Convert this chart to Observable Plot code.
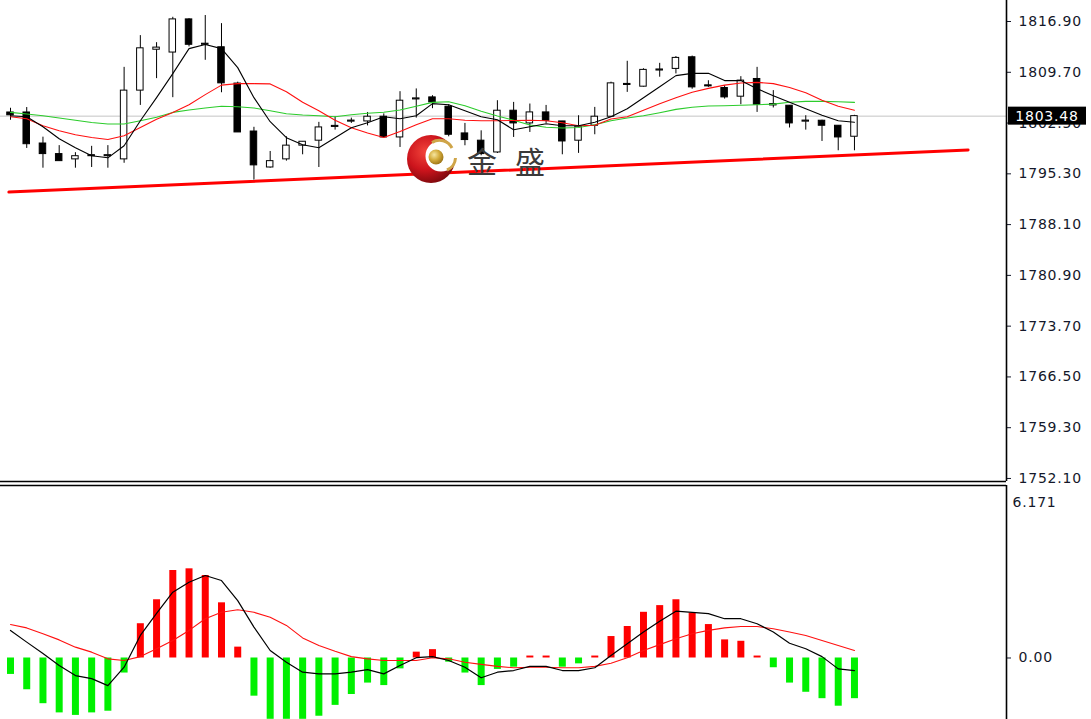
<!DOCTYPE html>
<html><head><meta charset="utf-8">
<script src="https://cdn.jsdelivr.net/npm/d3@7"></script>
<script src="https://cdn.jsdelivr.net/npm/@observablehq/plot@0.6"></script>
<style>
html,body{margin:0;padding:0;background:#fff;}
#wrap{position:relative;width:1091px;height:719px;overflow:hidden;background:#fff;}
#wrap > svg{display:block;}
#wm{position:absolute;left:0;top:0;pointer-events:none;}
</style></head><body><div id="wrap"></div>
<script>
// ---- price data (candles) ----
const openP  = [1804.0,1804.0,1799.6,1798.1,1797.35,1797.8,1797.8,1797.35,1807.1,1812.9,1812.5,1817.2,1813.6,1813.25,1808.1,1801.3,1796.2,1797.35,1799.3,1800.0,1801.95,1802.7,1802.73,1803.4,1800.46,1805.85,1806.14,1804.82,1801.03,1800.0,1798.33,1804.25,1802.45,1804.01,1802.73,1800.0,1802.12,1803.4,1808.05,1807.66,1809.95,1810.18,1811.83,1807.85,1807.47,1806.24,1808.75,1805.0,1804.96,1802.7,1802.83,1802.12,1800.56];
const highP  = [1804.6,1804.7,1800.5,1799.3,1798.3,1799.2,1799.3,1810.4,1814.9,1813.9,1817.5,1817.3,1817.75,1816.6,1808.3,1801.9,1798.47,1800.56,1799.85,1802.6,1803.4,1803.2,1804.0,1803.8,1806.95,1807.34,1806.38,1805.1,1802.45,1801.4,1805.67,1805.43,1805.2,1805.0,1802.73,1803.54,1804.72,1808.3,1811.26,1810.2,1810.97,1811.93,1812.0,1808.5,1807.8,1809.08,1810.4,1807.1,1804.96,1803.54,1802.9,1802.12,1803.6];
const lowP   = [1802.9,1798.9,1796.1,1797.1,1796.1,1796.2,1796.1,1796.8,1805.0,1808.8,1806.1,1813.3,1811.4,1806.8,1801.2,1794.4,1796.1,1797.1,1798.0,1796.2,1801.5,1802.45,1802.1,1800.4,1799.04,1803.2,1804.54,1800.55,1799.28,1797.86,1798.18,1800.46,1801.17,1802.45,1798.0,1798.2,1800.84,1803.3,1806.85,1807.6,1809.0,1809.47,1807.3,1807.56,1805.9,1805.1,1804.01,1804.64,1801.8,1801.5,1799.89,1798.57,1798.57];
const closeP = [1803.6,1799.5,1798.1,1797.1,1797.8,1797.95,1797.95,1807.1,1813.1,1813.2,1817.2,1813.6,1813.75,1808.13,1801.17,1796.5,1797.1,1799.3,1799.85,1801.88,1802.1,1802.85,1803.4,1800.46,1805.67,1806.0,1805.43,1800.84,1800.09,1798.1,1804.25,1802.45,1804.01,1802.83,1799.89,1801.98,1803.4,1808.13,1807.9,1810.04,1810.1,1811.74,1807.56,1807.7,1806.14,1808.52,1805.1,1805.2,1802.45,1802.85,1802.12,1800.46,1803.48];

// ---- moving averages ----
const maBlack = [1803.54,1803.40,1801.98,1800.27,1798.99,1797.86,1797.57,1799.28,1802.83,1806.10,1809.51,1813.06,1813.63,1813.06,1810.36,1806.10,1802.69,1800.42,1799.42,1798.99,1800.42,1801.84,1802.55,1803.40,1803.12,1803.54,1805.25,1805.10,1804.25,1803.40,1802.97,1801.55,1801.98,1802.40,1802.12,1802.12,1802.62,1803.40,1804.54,1806.10,1807.66,1809.23,1809.55,1809.55,1808.52,1808.52,1807.38,1806.38,1805.46,1804.54,1803.61,1802.83,1802.62];
const maRed   = [1803.40,1803.12,1802.12,1801.41,1800.84,1800.46,1800.17,1800.70,1801.88,1803.04,1804.01,1805.10,1806.53,1807.88,1808.09,1808.09,1808.05,1806.95,1805.46,1804.25,1802.90,1801.84,1801.08,1800.46,1801.30,1802.26,1803.12,1803.12,1802.90,1802.83,1802.83,1802.87,1802.90,1802.83,1802.55,1802.12,1802.19,1803.07,1803.40,1804.32,1805.25,1806.10,1806.88,1807.42,1807.88,1808.19,1808.27,1808.09,1807.55,1806.81,1805.74,1804.89,1804.32];
const maGreen = [1804.01,1803.78,1803.54,1803.21,1802.90,1802.59,1802.36,1802.36,1802.83,1803.33,1804.01,1804.35,1804.64,1804.89,1804.82,1804.64,1804.25,1803.83,1803.64,1803.54,1803.40,1803.68,1803.90,1804.04,1804.35,1804.89,1805.43,1805.53,1804.96,1804.18,1803.50,1802.90,1802.22,1801.91,1801.79,1801.88,1802.26,1802.83,1803.21,1803.54,1803.97,1804.44,1804.75,1804.92,1804.96,1805.03,1805.10,1805.18,1805.46,1805.57,1805.57,1805.53,1805.43];

// ---- trend line (bar index, price) ----
const trendIdx   = [-0.1, 59.0];
const trendPrice = [1792.71, 1798.69];

// ---- axis ----
const priceTicks = [1816.90,1809.70,1802.50,1795.30,1788.10,1780.90,1773.70,1766.50,1759.30,1752.10];
const lastPrice = 1803.48;

// ---- MACD panel ----
const macdHist   = [-0.59,-1.14,-1.64,-1.97,-2.06,-1.97,-1.91,-0.54,1.23,2.09,3.14,3.20,2.96,1.98,0.39,-1.37,-2.2,-2.2,-2.2,-2.09,-1.70,-1.31,-0.90,-0.99,-0.39,0.21,0.30,-0.15,-0.54,-0.99,-0.41,-0.33,0.07,0.07,-0.33,-0.21,0.07,0.77,1.13,1.64,1.88,2.09,1.61,1.20,0.65,0.60,0.07,-0.35,-0.90,-1.23,-1.46,-1.73,-1.46];
const macdMain   = [0.99,0.57,0.16,-0.27,-0.63,-0.74,-0.99,-0.33,0.81,1.60,2.36,2.72,2.96,2.78,2.06,1.11,0.27,-0.15,-0.51,-0.57,-0.57,-0.51,-0.42,-0.57,-0.27,0.01,0.05,-0.09,-0.33,-0.71,-0.51,-0.45,-0.30,-0.30,-0.45,-0.45,-0.35,0.09,0.51,0.93,1.32,1.68,1.64,1.59,1.41,1.41,1.23,0.93,0.53,0.33,0.05,-0.39,-0.45];
const macdSignal = [1.20,1.08,0.87,0.65,0.39,0.21,-0.03,-0.09,0.05,0.33,0.63,0.99,1.41,1.64,1.73,1.64,1.46,1.17,0.72,0.45,0.24,0.05,-0.03,-0.09,-0.09,-0.09,0.01,-0.03,-0.15,-0.23,-0.30,-0.35,-0.33,-0.33,-0.35,-0.35,-0.30,-0.19,0.01,0.27,0.48,0.69,0.87,0.99,1.08,1.13,1.13,1.05,0.93,0.81,0.63,0.45,0.27];
const macdTicks = [0];
const macdMaxLabel = "6.171";

// ---------- build ----------
const W = 1091, axisX = 1006, barStep = 16.23, firstBarX = 10;
const xDomain = [(0 - firstBarX) / barStep, (axisX - firstBarX) / barStep];
const yDomainTop = [1751.67, 1819.88];
const yDomainMacd = [-2.207, 6.19];
const textColor = "#14182a";
const fontStyle = {fontFamily: "'DejaVu Sans', sans-serif", fontSize: "14px", color: textColor, background: "#fff", letterSpacing: "0.8px", overflow: "visible"};

const candles = openP.map((o, i) => ({i, o, h: highP[i], l: lowP[i], c: closeP[i]}));
const upC = candles.filter(d => d.c >= d.o);
const dnC = candles.filter(d => d.c < d.o);
const series = arr => arr.map((v, i) => ({i, v}));
const trend = trendIdx.map((x, k) => ({x, y: trendPrice[k]}));

const topPlot = Plot.plot({
  width: W, height: 483,
  marginLeft: 0, marginRight: W - axisX, marginTop: 0, marginBottom: 2,
  x: {domain: xDomain, axis: null},
  y: {domain: yDomainTop, axis: "right", ticks: priceTicks, tickFormat: d => d.toFixed(2), tickSize: 4, tickPadding: 8, label: null},
  style: fontStyle,
  marks: [
    Plot.ruleY([lastPrice], {stroke: "#c4c4c4", strokeWidth: 1}),
    Plot.line(trend, {x: "x", y: "y", stroke: "#ff0000", strokeWidth: 3}),
    Plot.ruleX(candles, {x: "i", y1: "l", y2: "h", stroke: "#000", strokeWidth: 1}),
    Plot.rect(upC, {x1: d => d.i - 0.2, x2: d => d.i + 0.2, y1: "o", y2: "c", fill: "#fff", stroke: "#000", strokeWidth: 1}),
    Plot.rect(dnC, {x1: d => d.i - 0.2, x2: d => d.i + 0.2, y1: "o", y2: "c", fill: "#000", stroke: "#000", strokeWidth: 1}),
    Plot.line(series(maGreen), {x: "i", y: "v", stroke: "#2ccc2c", strokeWidth: 1.1}),
    Plot.line(series(maRed), {x: "i", y: "v", stroke: "#ff1010", strokeWidth: 1.1}),
    Plot.line(series(maBlack), {x: "i", y: "v", stroke: "#000", strokeWidth: 1.1}),
    Plot.ruleX([xDomain[1]], {stroke: "#000", strokeWidth: 1.6}),
    Plot.ruleY([yDomainTop[0]], {stroke: "#000", strokeWidth: 1.6})
  ]
});

// current price label, placed through the y scale
{
  const yy = topPlot.scale("y").apply(lastPrice);
  const g = d3.select(topPlot).append("g");
  g.append("rect").attr("x", axisX + 2).attr("y", yy - 9).attr("width", 78).attr("height", 18).attr("fill", "#000");
  g.append("text").attr("x", axisX + 41).attr("y", yy).attr("dy", "0.36em").attr("text-anchor", "middle")
    .attr("fill", "#fff").attr("font-size", 14).text(lastPrice.toFixed(2));
}

const hist = series(macdHist);
const macdPlot = Plot.plot({
  width: W, height: 236,
  marginLeft: 0, marginRight: W - axisX, marginTop: 2, marginBottom: 0,
  x: {domain: xDomain, axis: null},
  y: {domain: yDomainMacd, axis: "right", ticks: macdTicks, tickFormat: d => d.toFixed(2), tickSize: 4, tickPadding: 8, label: null},
  style: fontStyle,
  marks: [
    Plot.ruleX(hist.filter(d => d.v >= 0), {x: "i", y1: 0, y2: "v", stroke: "#ff0000", strokeWidth: 7}),
    Plot.ruleX(hist.filter(d => d.v < 0), {x: "i", y1: 0, y2: "v", stroke: "#00f000", strokeWidth: 7}),
    Plot.line(series(macdSignal), {x: "i", y: "v", stroke: "#ff1010", strokeWidth: 1.1}),
    Plot.line(series(macdMain), {x: "i", y: "v", stroke: "#000", strokeWidth: 1.2}),
    Plot.text([macdMaxLabel], {text: d => d, frameAnchor: "top-right", textAnchor: "start", dx: 6, dy: 12, fill: textColor, fontSize: 14}),
    Plot.ruleX([xDomain[1]], {stroke: "#000", strokeWidth: 1.6}),
    Plot.ruleY([yDomainMacd[1]], {stroke: "#000", strokeWidth: 1.6})
  ]
});

const wrap = document.getElementById("wrap");
wrap.appendChild(topPlot);
wrap.appendChild(macdPlot);

// watermark logo
wrap.insertAdjacentHTML("beforeend", `
<svg id="wm" width="1091" height="483" xmlns="http://www.w3.org/2000/svg">
 <defs>
  <radialGradient id="rg" cx="38%" cy="35%" r="70%">
   <stop offset="0" stop-color="#f2443a"/><stop offset="0.55" stop-color="#cc141c"/><stop offset="1" stop-color="#7a080c"/>
  </radialGradient>
  <radialGradient id="gg" cx="38%" cy="35%" r="70%">
   <stop offset="0" stop-color="#f6e6a0"/><stop offset="0.5" stop-color="#d4ac3c"/><stop offset="1" stop-color="#987014"/>
  </radialGradient>
 </defs>
 <circle cx="431" cy="159" r="24" fill="url(#rg)"/>
 <circle cx="441" cy="156" r="15.5" fill="#fff"/>
 <path d="M 432 142.5 A 14 14 0 0 1 452 148" stroke="#cfa548" stroke-width="3" fill="none"/>
 <path d="M 455.5 158 A 14 14 0 0 1 447 170" stroke="#cfa548" stroke-width="3" fill="none"/>
 <circle cx="436" cy="157" r="7.5" fill="url(#gg)"/>
 <text x="467" y="173" font-size="30" font-family="'Noto Sans CJK SC'" fill="#3a3a3a">金</text>
 <text x="515" y="173" font-size="30" font-family="'Noto Sans CJK SC'" fill="#3a3a3a">盛</text>
</svg>`);
</script>
</body></html>
